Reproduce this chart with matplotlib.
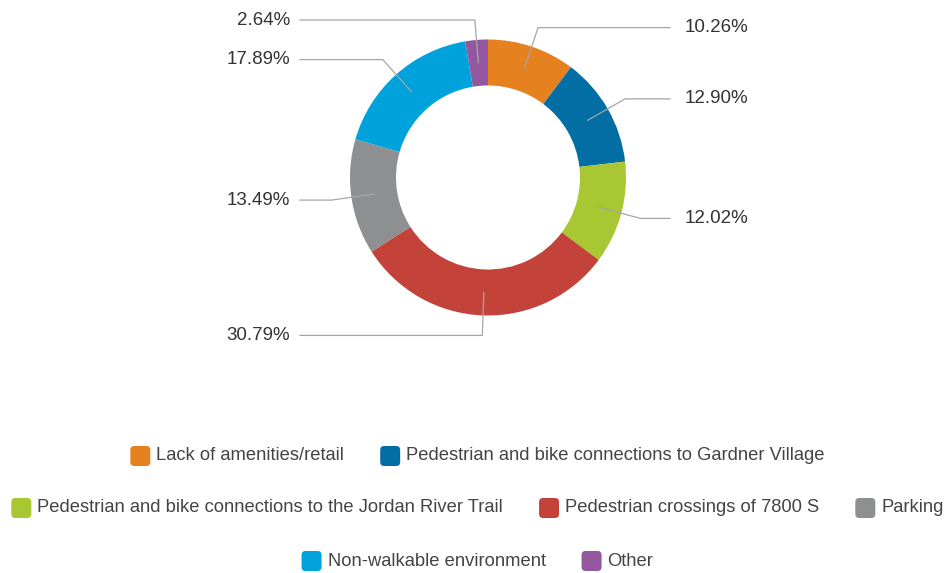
import matplotlib
matplotlib.use('Agg')
import matplotlib.pyplot as plt
from matplotlib.patches import FancyBboxPatch
import numpy as np

categories = [
    'Lack of amenities/retail',
    'Pedestrian and bike connections to Gardner Village',
    'Pedestrian and bike connections to the Jordan River Trail',
    'Pedestrian crossings of 7800 S',
    'Parking',
    'Non-walkable environment',
    'Other',
]
shares = [10.26, 12.90, 12.02, 30.79, 13.49, 17.89, 2.64]
colors = ['#e5821f', '#026ea3', '#a9c733', '#c3433b', '#8e8f91', '#00a2dc', '#93589f']
legend_rows = [[0, 1], [2, 3, 4], [5, 6]]

W, H = 949, 573
fig = plt.figure(figsize=(W / 100, H / 100), dpi=100)
ax = fig.add_axes([0, 0, 1, 1])

# donut, measured in pixels
cx, cy = 488, H - 177.5
r_out, ring = 138, 46
ax.pie(shares, colors=colors, startangle=90, counterclock=False,
       radius=r_out, center=(cx, cy), frame=True,
       wedgeprops=dict(width=ring, linewidth=0))
ax.set_xlim(0, W)
ax.set_ylim(0, H)
ax.axis('off')

# percentage labels with elbow leader lines
label_font = dict(family=['Liberation Sans', 'DejaVu Sans'], size=13.5, color='#333333')
r_mid, r_elbow = r_out - ring / 2, 158
mids = 90 - (np.cumsum(shares) - np.array(shares) / 2) * 3.6
for share, ang in zip(shares, mids):
    a = np.deg2rad(ang)
    x0, y0 = cx + r_mid * np.cos(a), cy + r_mid * np.sin(a)
    x1, y1 = cx + r_elbow * np.cos(a), cy + r_elbow * np.sin(a)
    if np.cos(a) >= 0:
        x2, tx, ha = 670, 685, 'left'
    else:
        x2, tx, ha = 300, 290, 'right'
    ax.plot([x0, x1, x2], [y0, y1, y1], color='#a6a6a6', lw=0.9,
            solid_joinstyle='miter')
    ax.text(tx, y1, f'{share:.2f}%', ha=ha, va='center', **label_font)

# legend rows, centred under the chart
legend_font = dict(family=['Liberation Sans', 'DejaVu Sans'], size=13.25,
                   color='#444444')
renderer = fig.canvas.get_renderer()
box, pad, gap = 20, 6, 36
row_y = [H - 456, H - 508, H - 561]
for row, y in zip(legend_rows, row_y):
    texts = [ax.text(0, y, categories[i], ha='left', va='center', **legend_font)
             for i in row]
    widths = [t.get_window_extent(renderer).width for t in texts]
    total = sum(box + pad + w for w in widths) + gap * (len(row) - 1)
    x = 477.5 - total / 2
    for i, t, w in zip(row, texts, widths):
        ax.add_patch(FancyBboxPatch((x, y - box / 2), box, box,
                                    boxstyle='round,pad=0,rounding_size=4',
                                    fc=colors[i], ec='none'))
        t.set_x(x + box + pad)
        x += box + pad + w + gap

fig.savefig('out.png', dpi=100)
